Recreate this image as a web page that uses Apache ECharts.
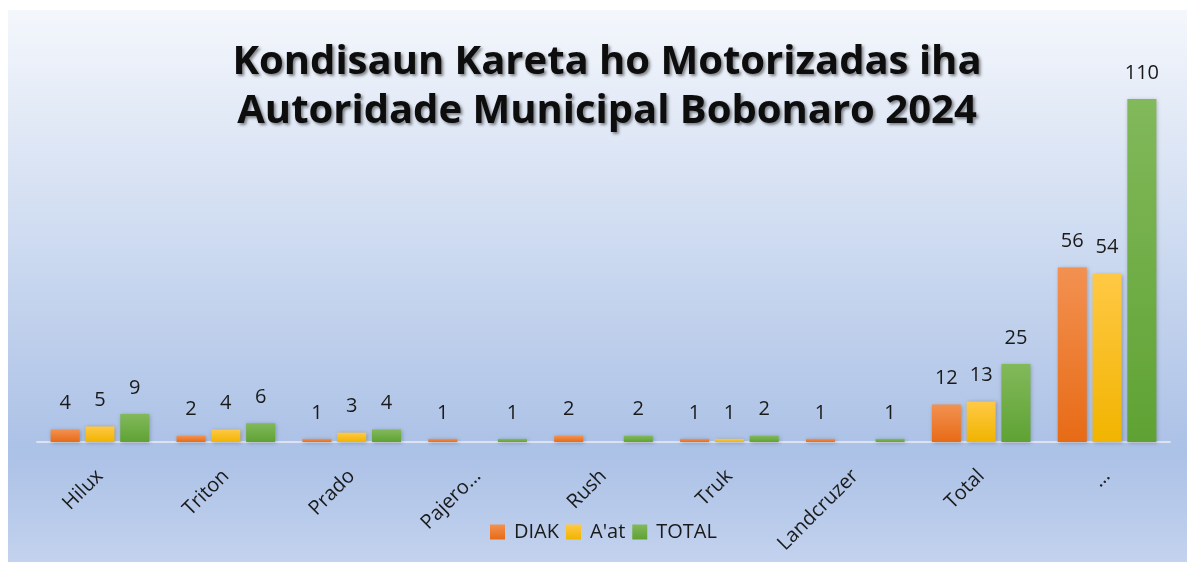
<!DOCTYPE html>
<html>
<head>
<meta charset="utf-8">
<script src="https://cdn.jsdelivr.net/npm/echarts@6/dist/echarts.min.js"></script>
<style>
html, body { margin: 0; padding: 0; background: #fff; }
#chart { width: 1187px; height: 562px; }
</style>
</head>
<body>
<div id="chart"></div>
<script>
var categories = ["Hilux", "Triton", "Prado", "Pajero…", "Rush", "Truk", "Landcruzer", "Total", "…"];
var diak = [4, 2, 1, 1, 2, 1, 1, 12, 56];
var aat = [5, 4, 3, null, null, 1, null, 13, 54];
var total = [9, 6, 4, 1, 2, 2, 1, 25, 110];

var chart = echarts.init(document.getElementById("chart"));

function grad(top, bottom) {
	return new echarts.graphic.LinearGradient(0, 0, 0, 1, [
		{ offset: 0, color: top },
		{ offset: 1, color: bottom },
	]);
}

function barSeries(name, data, top, bottom) {
	return {
		name: name,
		type: "bar",
		data: data,
		barWidth: 29,
		barGap: "20%",
		itemStyle: {
			color: grad(top, bottom),
			shadowColor: "rgba(0,0,0,0.25)",
			shadowBlur: 4,
			shadowOffsetX: 1,
			shadowOffsetY: 1,
		},
		label: {
			show: true,
			position: "top",
			distance: 16,
			fontFamily: "Open Sans",
			fontSize: 20,
			color: "#1a1a1a",
		},
	};
}

var option = {
	animation: false,
	textStyle: { fontFamily: "Open Sans" },
	graphic: [
		{
			type: "rect",
			z: -10,
			silent: true,
			shape: { x: 8, y: 10, width: 1179, height: 552 },
			style: {
				fill: new echarts.graphic.LinearGradient(0, 0, 0, 1, [
					{ offset: 0, color: "#f4f7fc" },
					{ offset: 0.8, color: "#abc1e6" },
					{ offset: 1, color: "#c3d2ee" },
				]),
			},
		},
	],
	title: {
		text: "Kondisaun Kareta ho Motorizadas iha\nAutoridade Municipal Bobonaro 2024",
		left: 602,
		top: 33,
		textAlign: "center",
		textStyle: {
			fontFamily: "Open Sans",
			fontWeight: "bold",
			fontSize: 40,
			lineHeight: 49,
			color: "#0d0d0d",
			textShadowColor: "rgba(0,0,0,0.45)",
			textShadowBlur: 3,
			textShadowOffsetX: 2,
			textShadowOffsetY: 2,
		},
	},
	legend: {
		left: 485,
		top: 517,
		itemWidth: 15,
		itemHeight: 15,
		itemGap: 7,
		icon: "rect",
		textStyle: { fontFamily: "Open Sans", fontSize: 20, color: "#1a1a1a", padding: [0, 0, 0, 4] },
		data: ["DIAK", "A'at", "TOTAL"],
	},
	grid: {
		left: 37,
		right: 17,
		top: 99,
		bottom: 120,
		containLabel: false,
	},
	xAxis: {
		type: "category",
		data: categories,
		axisLine: { lineStyle: { color: "#dae2f3", width: 2 } },
		axisTick: { show: false },
		axisLabel: {
			rotate: 45,
			margin: 31,
			interval: 0,
			fontFamily: "Open Sans",
			fontSize: 20,
			color: "#1a1a1a",
		},
	},
	yAxis: {
		type: "value",
		min: 0,
		max: 110,
		show: false,
	},
	series: [
		barSeries("DIAK", diak, "#f39151", "#e76b16"),
		barSeries("A'at", aat, "#ffc945", "#f1b400"),
		barSeries("TOTAL", total, "#82b95b", "#5fa233"),
	],
};

chart.setOption(option);
</script>
</body>
</html>
